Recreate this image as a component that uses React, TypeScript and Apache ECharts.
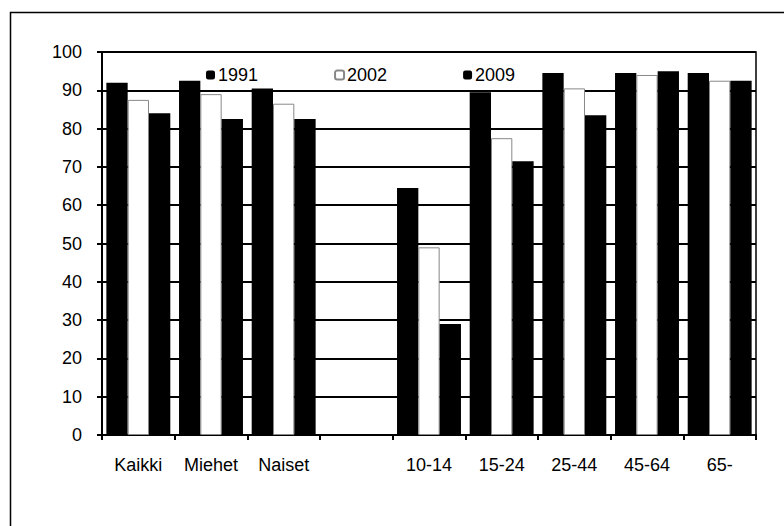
import React, { useEffect, useRef } from "react";
import * as echarts from "echarts";

const categories = ["Kaikki", "Miehet", "Naiset", "", "10-14", "15-24", "25-44", "45-64", "65-"];
const seriesNames = ["1991", "2002", "2009"];
const values1991 = [92, 92.5, 90.5, null, 64.5, 89.5, 94.5, 94.5, 94.5];
const values2002 = [87.5, 89, 86.5, null, 49, 77.5, 90.5, 94, 92.5];
const values2009 = [84, 82.5, 82.5, null, 29, 71.5, 83.5, 95, 92.5];

const FONT = "Liberation Sans, Arial, sans-serif";

export default function App() {
  const ref = useRef<HTMLDivElement>(null);
  useEffect(() => {
    document.body.style.margin = "0";
    const chart = echarts.init(ref.current!, null, { renderer: "svg" });
    const black = { color: "#000" };
    const white = { color: "#fff", borderColor: "#888", borderWidth: 1 };
    chart.setOption({
      animation: false,
      backgroundColor: "#fff",
      textStyle: { fontFamily: FONT, color: "#000" },
      grid: {
        left: 102,
        right: 28,
        top: 52,
        bottom: 91,
        show: true,
        borderColor: "#000",
        borderWidth: 1.5,
        backgroundColor: "transparent",
      },
      legend: {
        left: 201,
        top: 61,
        itemWidth: 9,
        itemHeight: 9,
        itemGap: 76,
        textStyle: { fontSize: 18, fontFamily: FONT, color: "#000", padding: [0, 0, 0, -2] },
        data: seriesNames,
      },
      xAxis: {
        type: "category",
        data: categories,
        axisLine: { lineStyle: { color: "#000", width: 2 } },
        axisTick: { show: true, length: 5, lineStyle: { color: "#000", width: 2 } },
        axisLabel: { fontSize: 18, fontFamily: FONT, color: "#000", margin: 21, interval: 0 },
      },
      yAxis: {
        type: "value",
        min: 0,
        max: 100,
        interval: 10,
        axisLine: { show: true, lineStyle: { color: "#000", width: 2 } },
        axisTick: { show: true, length: 5, lineStyle: { color: "#000", width: 2 } },
        axisLabel: { fontSize: 18, fontFamily: FONT, color: "#000", margin: 20 },
        splitLine: { show: true, lineStyle: { color: "#000", width: 2 } },
      },
      series: [
        { name: "1991", type: "bar", data: values1991, itemStyle: black, barGap: "0%", barCategoryGap: "12%" },
        { name: "2002", type: "bar", data: values2002, itemStyle: white, barGap: "0%", barCategoryGap: "12%" },
        { name: "2009", type: "bar", data: values2009, itemStyle: black, barGap: "0%", barCategoryGap: "12%" },
      ],
      graphic: [
        {
          type: "rect",
          left: 8,
          top: 10,
          shape: { width: 900, height: 700 },
          style: { fill: "none", stroke: "#000", lineWidth: 1.5 },
          silent: true,
        },
      ],
    });
    return () => chart.dispose();
  }, []);
  return <div ref={ref} style={{ width: 784, height: 526 }} />;
}
